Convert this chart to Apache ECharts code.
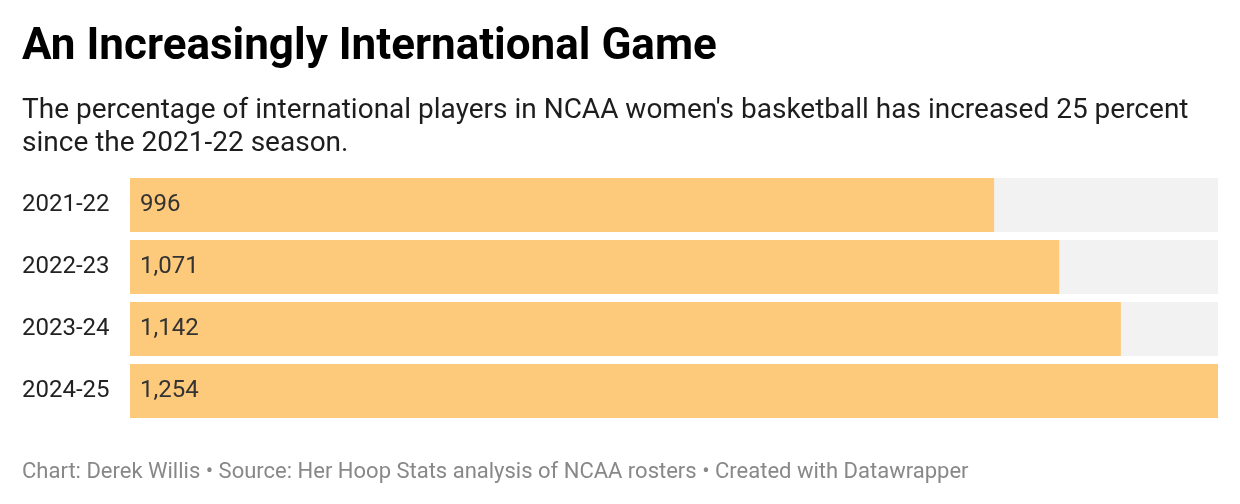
<!DOCTYPE html>
<html><head><meta charset="utf-8">
<script src="https://cdn.jsdelivr.net/npm/echarts@6/dist/echarts.min.js"></script>
<style>html,body{margin:0;padding:0;background:#fff}#c{width:1240px;height:504px}</style>
</head><body><div id="c"></div>
<script>
const seasons = ["2021-22", "2022-23", "2023-24", "2024-25"];
const players = [996, 1071, 1142, 1254];
const titleText = "An Increasingly International Game";
const subtitleText = "The percentage of international players in NCAA women's basketball has increased 25 percent\nsince the 2021-22 season.";
const footerText = "Chart: Derek Willis • Source: Her Hoop Stats analysis of NCAA rosters • Created with Datawrapper";

const chart = echarts.init(document.getElementById('c'));
chart.setOption({
  animation: false,
  textStyle: { fontFamily: 'Roboto' },
  title: [
    { text: titleText, left: 22, top: 24, padding: 0, textStyle: { fontFamily: 'Roboto', fontWeight: 'bold', fontSize: 44, color: '#000', lineHeight: 48 } },
    { text: subtitleText, left: 22, top: 94, padding: 0, textStyle: { fontFamily: 'Roboto', fontWeight: 'normal', fontSize: 28, color: '#1d1d1d', lineHeight: 33 } },
    { text: footerText, left: 22, top: 460, padding: 0, textStyle: { fontFamily: 'Roboto', fontWeight: 'normal', fontSize: 22, color: '#888', lineHeight: 24 } }
  ],
  grid: { left: 130, right: 22, top: 174, height: 248 },
  xAxis: { type: 'value', min: 0, max: 1254, show: false },
  yAxis: {
    type: 'category', data: seasons, inverse: true,
    axisLine: { show: false }, axisTick: { show: false },
    axisLabel: { fontFamily: 'Roboto', fontSize: 24, color: '#222', margin: 108, align: 'left' }
  },
  series: [{
    type: 'bar', data: players, barWidth: 54,
    itemStyle: { color: '#fdc97a' },
    showBackground: true,
    backgroundStyle: { color: '#f2f2f2' },
    label: {
      show: true, position: 'insideLeft', distance: 10,
      fontFamily: 'Roboto', fontSize: 24, color: '#333',
      formatter: p => p.value.toLocaleString('en-US')
    }
  }]
});
</script>
</body></html>
